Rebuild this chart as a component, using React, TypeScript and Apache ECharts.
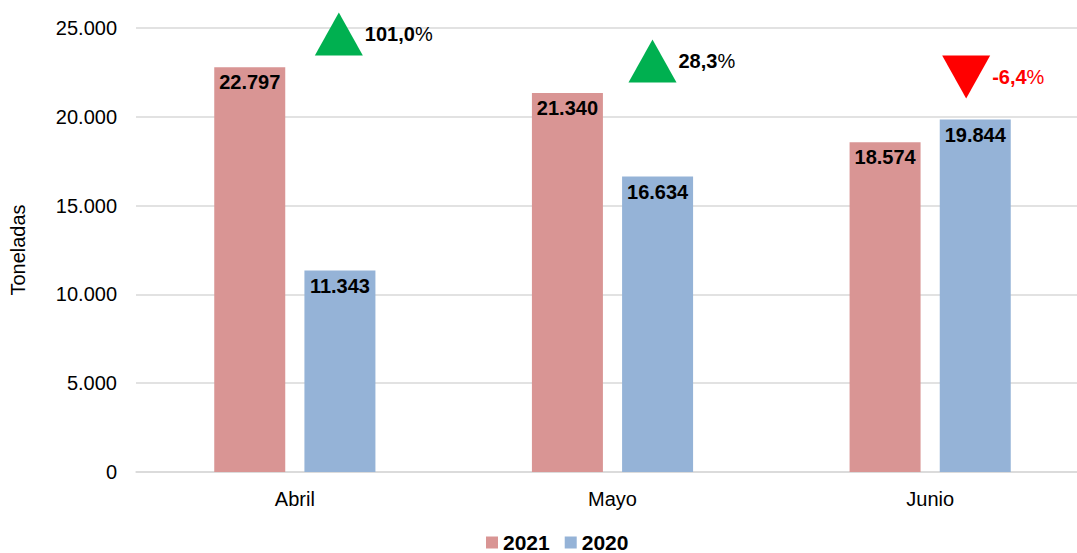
import React, { useEffect, useRef } from "react";
import * as echarts from "echarts";

const categories = ["Abril", "Mayo", "Junio"];
const values2021 = [22797, 21340, 18574];
const values2020 = [11343, 16634, 19844];
const yTicks = [0, 5000, 10000, 15000, 20000, 25000];
// annotation placement (layout only)
const markerY = [24660, 23140, 22240];
const markerOffsetX = [44, 40, 36];

const FONT = "'Liberation Sans', Arial, Helvetica, sans-serif";

const fmt = (v: number) => String(Math.round(v)).replace(/\B(?=(\d{3})+(?!\d))/g, ".");
const pct = (a: number, b: number) => ((a / b - 1) * 100).toFixed(1).replace(".", ",");

export default function App() {
  const ref = useRef<HTMLDivElement>(null);
  useEffect(() => {
    if (!ref.current) return;
    const chart = echarts.init(ref.current, null, { renderer: "svg" });
    const markers = categories.map((c, i) => {
      const change = values2021[i] / values2020[i] - 1;
      const up = change >= 0;
      return {
        value: [c, markerY[i]],
        symbol: "triangle",
        symbolRotate: up ? 0 : 180,
        symbolOffset: [markerOffsetX[i], 0],
        itemStyle: { color: up ? "#00B050" : "#FF0000", opacity: 1 },
        label: {
          show: true,
          position: "right",
          distance: 2,
          formatter: `{b|${pct(values2021[i], values2020[i])}}{p|%}`,
          rich: {
            b: { fontFamily: FONT, fontSize: 20, fontWeight: "bold", color: up ? "#000" : "#FF0000" },
            p: { fontFamily: FONT, fontSize: 20, color: up ? "#000" : "#FF0000" },
          },
        },
      };
    });
    chart.setOption({
      animation: false,
      backgroundColor: "#fff",
      textStyle: { fontFamily: FONT },
      grid: { left: 136, right: -12, top: 28, bottom: 81, containLabel: false, outerBoundsMode: "none" },
      legend: {
        data: ["2021", "2020"],
        bottom: -5,
        left: 481,
        itemWidth: 12,
        itemHeight: 12,
        itemGap: 15,
        icon: "rect",
        textStyle: { fontFamily: FONT, fontSize: 21, fontWeight: "bold", color: "#000" },
      },
      xAxis: {
        type: "category",
        data: categories,
        axisLine: { show: true, lineStyle: { color: "#D9D9D9", width: 1.5 } },
        axisTick: { show: false },
        axisLabel: { fontFamily: FONT, fontSize: 20, color: "#000", margin: 17 },
      },
      yAxis: {
        type: "value",
        min: yTicks[0],
        max: yTicks[yTicks.length - 1],
        interval: 5000,
        name: "Toneladas",
        nameLocation: "middle",
        nameRotate: 90,
        nameGap: 108,
        nameTextStyle: { fontFamily: FONT, fontSize: 20, color: "#000" },
        axisLine: { show: false },
        axisTick: { show: false },
        splitLine: { lineStyle: { color: "#D9D9D9", width: 1.5 } },
        axisLabel: { fontFamily: FONT, fontSize: 20, color: "#000", margin: 19, formatter: (v: number) => fmt(v) },
      },
      series: [
        {
          name: "2021",
          type: "bar",
          data: values2021,
          barWidth: 71,
          barGap: "27%",
          itemStyle: { color: "#D99594" },
          label: {
            show: true,
            position: "insideTop",
            distance: 5,
            fontFamily: FONT,
            fontSize: 20,
            fontWeight: "bold",
            color: "#000",
            formatter: (p: any) => fmt(p.value),
          },
        },
        {
          name: "2020",
          type: "bar",
          data: values2020,
          barWidth: 71,
          itemStyle: { color: "#95B3D7" },
          label: {
            show: true,
            position: "insideTop",
            distance: 5,
            fontFamily: FONT,
            fontSize: 20,
            fontWeight: "bold",
            color: "#000",
            formatter: (p: any) => fmt(p.value),
          },
        },
        {
          name: "change",
          type: "scatter",
          symbolSize: [48, 43],
          data: markers,
          z: 5,
        },
      ],
    });
    return () => chart.dispose();
  }, []);
  return (
    <div
      ref={ref}
      style={{ position: "fixed", left: 0, top: 0, width: 1077, height: 553, background: "#fff" }}
    />
  );
}
